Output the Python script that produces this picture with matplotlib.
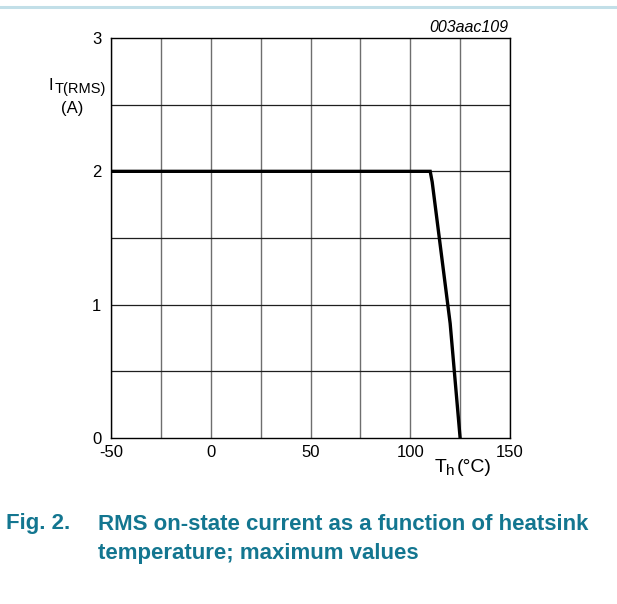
import matplotlib
matplotlib.use("Agg")
import matplotlib.pyplot as plt
from matplotlib.lines import Line2D

plt.rcParams['font.family'] = ['Liberation Sans', 'DejaVu Sans']
plt.rcParams['axes.unicode_minus'] = False

# derating curve
temp_h = [-50, 110, 111, 120, 125]
i_rms = [2.0, 2.0, 1.92, 0.86, 0.0]

x_ticks = [-50, 0, 50, 100, 150]
x_grid = [-50, -25, 0, 25, 50, 75, 100, 125, 150]
y_ticks = [0, 1, 2, 3]
y_grid = [0.5, 1, 1.5, 2, 2.5]

W, H = 617, 604
fig = plt.figure(figsize=(W / 100, H / 100), dpi=100)
ax = fig.add_axes([111 / W, 1 - 438 / H, 399 / W, 400 / H])

for x in x_grid:
    ax.axvline(x, color='#6e6e6e', lw=1.0, zorder=1)
for y in y_grid:
    ax.axhline(y, color='#1e1e1e', lw=0.9, zorder=1)

ax.plot(temp_h, i_rms, color='black', lw=2.4, zorder=3, solid_joinstyle='miter')

ax.set_xlim(-50, 150)
ax.set_ylim(0, 3)
ax.set_xticks(x_ticks)
ax.set_yticks(y_ticks)
ax.tick_params(length=0, labelsize=12, pad=5)
ax.tick_params(axis='y', pad=7)
for s in ax.spines.values():
    s.set_color('black')
    s.set_linewidth(1.0)

# axis labels, placed like the datasheet
fig.text(48 / W, 1 - 85 / H, "I", fontsize=12, va='center', ha='left')
fig.text(55 / W, 1 - 89 / H, "T(RMS)", fontsize=10.5, va='center', ha='left')
fig.text(72 / W, 1 - 108 / H, "(A)", fontsize=12, va='center', ha='center')
fig.text(435 / W, 1 - 468 / H, "T", fontsize=14, va='center', ha='left')
fig.text(446 / W, 1 - 471 / H, "h", fontsize=11, va='center', ha='left')
fig.text(457 / W, 1 - 468 / H, "(°C)", fontsize=14, va='center', ha='left')
fig.text(508 / W, 1 - 27 / H, "003aac109", fontsize=11.5, style='italic',
         va='center', ha='right')

# top rule and caption
fig.add_artist(Line2D([0, 1], [1 - 7 / H, 1 - 7 / H], color='#c2dfe8', lw=2.2,
                      transform=fig.transFigure))
cap_color = '#137690'
fig.text(6 / W, 1 - 524 / H, "Fig. 2.", fontsize=16, fontweight='bold',
         color=cap_color, va='center', ha='left')
fig.text(98 / W, 1 - 524 / H, "RMS on-state current as a function of heatsink",
         fontsize=16, fontweight='bold', color=cap_color, va='center', ha='left')
fig.text(98 / W, 1 - 553 / H, "temperature; maximum values",
         fontsize=16, fontweight='bold', color=cap_color, va='center', ha='left')

fig.savefig("out.png", dpi=100)
